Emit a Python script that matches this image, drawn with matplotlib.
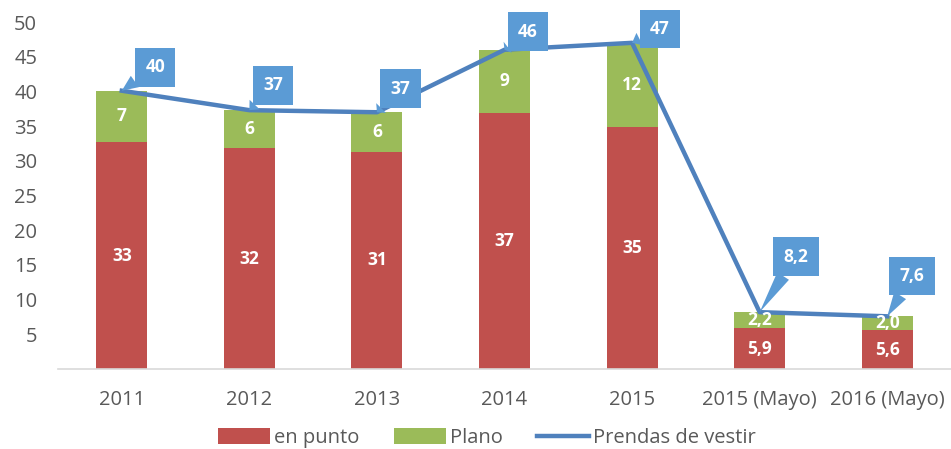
import matplotlib.pyplot as plt
import numpy as np

# Datos
categorias = ["2011", "2012", "2013", "2014", "2015", "2015 (Mayo)", "2016 (Mayo)"]
en_punto = [32.7, 31.8, 31.3, 36.9, 34.9, 5.9, 5.6]
plano = [7.4, 5.5, 5.7, 9.1, 12.1, 2.3, 2.0]
prendas = [40.1, 37.3, 37.0, 46.0, 47.0, 8.2, 7.6]
etiq_punto = ["33", "32", "31", "37", "35", "5,9", "5,6"]
etiq_plano = ["7", "6", "6", "9", "12", "2,2", "2,0"]
etiq_prendas = ["40", "37", "37", "46", "47", "8,2", "7,6"]

# Colores
ROJO = "#C0504D"
VERDE = "#9BBB59"
AZUL = "#4F81BD"
AZUL_CAJA = "#5B9BD5"
GRIS = "#595959"

plt.rcParams["font.family"] = ["Open Sans", "DejaVu Sans"]

fig = plt.figure(figsize=(9.51, 4.49), dpi=100)
ax = fig.add_axes([0.061, 0.178, 0.939, 0.773])

x = np.arange(len(categorias))
ancho = 0.4
b1 = ax.bar(x, en_punto, ancho, color=ROJO, label="en punto")
b2 = ax.bar(x, plano, ancho, bottom=en_punto, color=VERDE, label="Plano")
l1, = ax.plot(x, prendas, color=AZUL, lw=3.2, label="Prendas de vestir", zorder=3)

# Etiquetas dentro de las barras
for i in range(len(x)):
    ax.text(x[i], en_punto[i] / 2, etiq_punto[i], ha="center", va="center",
            color="white", fontsize=12.5, fontweight="bold")
    ax.text(x[i], en_punto[i] + plano[i] / 2, etiq_plano[i], ha="center",
            va="center", color="white", fontsize=12.5, fontweight="bold")

# Llamadas (desplazamiento en puntos)
desplaz = [(24, 17), (17, 18), (17, 17), (17, 13), (20, 10), (26, 40), (18, 29)]
for i in range(len(x)):
    ax.annotate(etiq_prendas[i], xy=(x[i], prendas[i]), xytext=desplaz[i],
                textcoords="offset points", ha="center", va="center",
                color="white", fontsize=12.5, fontweight="bold", zorder=5,
                bbox=dict(boxstyle="square,pad=0.6", fc=AZUL_CAJA, ec="none"),
                arrowprops=dict(arrowstyle="wedge,tail_width=0.8,shrink_factor=0.5",
                                fc=AZUL_CAJA, ec="none", shrinkA=0, shrinkB=0))

ax.set_xlim(-0.5, len(x) - 0.5)
ax.set_ylim(0, 50)
ax.set_yticks(range(5, 51, 5))
ax.set_xticks(x)
ax.set_xticklabels(categorias)
ax.tick_params(axis="both", length=0, labelsize=14.5, labelcolor=GRIS)
ax.tick_params(axis="y", pad=15)
ax.tick_params(axis="x", pad=15)
for s in ["left", "right", "top"]:
    ax.spines[s].set_visible(False)
ax.spines["bottom"].set_color("#D9D9D9")
ax.spines["bottom"].set_linewidth(1.2)

fig.legend(handles=[b1, b2, l1], loc="lower center", bbox_to_anchor=(0.512, -0.038),
           ncol=3, frameon=False, fontsize=14.5, labelcolor=GRIS,
           handlelength=2.6, handleheight=0.8, handletextpad=0.2,
           columnspacing=1.7)

plt.savefig("out.png", dpi=100)
plt.close()
